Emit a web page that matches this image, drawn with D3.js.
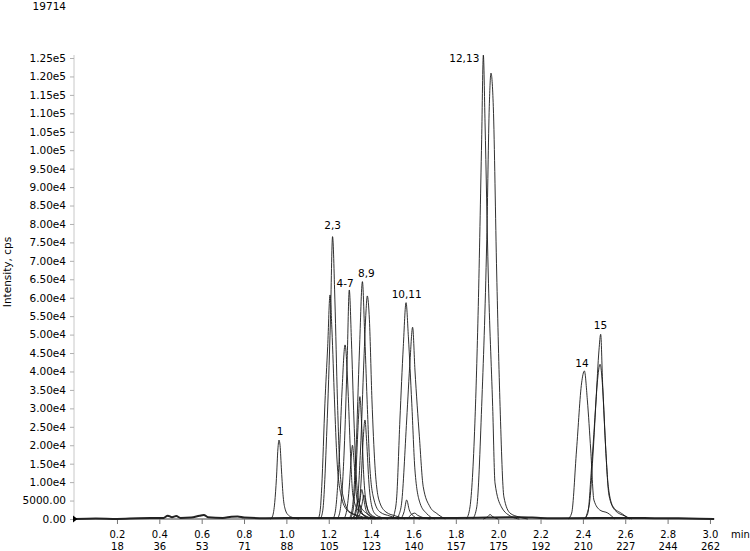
<!DOCTYPE html>
<html><head><meta charset="utf-8">
<script src="https://cdn.jsdelivr.net/npm/d3@7"></script>
<style>
html,body{margin:0;padding:0;background:#fff;}
svg{display:block;font-family:"DejaVu Sans",sans-serif;}
</style></head>
<body><svg id="c" width="750" height="551"></svg>
<script>
// ---- data (time in min, intensity in cps) ----
const xTickValues = [0.2,0.4,0.6,0.8,1.0,1.2,1.4,1.6,1.8,2.0,2.2,2.4,2.6,2.8,3.0];
const xTickLabels = ["0.2","0.4","0.6","0.8","1.0","1.2","1.4","1.6","1.8","2.0","2.2","2.4","2.6","2.8","3.0"];
const scanLabels  = ["18","36","53","71","88","105","123","140","157","175","192","210","227","244","262"];
const yTickValues = [0,5000,10000,15000,20000,25000,30000,35000,40000,45000,50000,55000,60000,65000,70000,75000,80000,85000,90000,95000,100000,105000,110000,115000,120000,125000];
const yTickLabels = ["0.00","5000.00","1.00e4","1.50e4","2.00e4","2.50e4","3.00e4","3.50e4","4.00e4","4.50e4","5.00e4","5.50e4","6.00e4","6.50e4","7.00e4","7.50e4","8.00e4","8.50e4","9.00e4","9.50e4","1.00e5","1.05e5","1.10e5","1.15e5","1.20e5","1.25e5"];
const headerText = "19714";
const yTitle = "Intensity, cps";
const xUnit = "min";

const baseline = [[0,0],[0.1,150],[0.2,0],[0.3,200],[0.42,300],[0.44,900],[0.46,500],[0.48,800],[0.5,300],[0.55,400],[0.59,900],[0.61,1100],[0.63,500],[0.7,300],[0.74,600],[0.77,700],[0.8,400],[0.9,200],[1.1,300],[1.8,300],[2.1,500],[2.2,300],[2.3,200],[2.6,300],[2.75,200],[2.9,150],[3.02,0]];
const peak1  = [[0.925,0],[0.935,800],[0.945,4500],[0.953,11000],[0.960,19000],[0.965,21400],[0.970,20000],[0.977,13000],[0.985,6000],[0.995,2500],[1.010,1000],[1.030,400],[1.060,0]];
const peak2  = [[1.150,0],[1.160,2500],[1.167,8800],[1.182,31400],[1.195,46700],[1.206,60750],[1.215,51300],[1.227,32300],[1.239,16000],[1.258,6500],[1.286,2400],[1.323,1100],[1.360,0]];
const peak3  = [[1.160,0],[1.172,2400],[1.191,24100],[1.208,54000],[1.218,76560],[1.229,59400],[1.241,32300],[1.253,13300],[1.272,5150],[1.300,1900],[1.347,800],[1.390,0]];
const peak4  = [[1.220,0],[1.232,2400],[1.249,16000],[1.263,35000],[1.277,47200],[1.291,35000],[1.302,18700],[1.314,6500],[1.338,2400],[1.376,800],[1.410,0]];
const peak5  = [[1.240,0],[1.254,2400],[1.273,18700],[1.287,43100],[1.297,62100],[1.307,48500],[1.319,26850],[1.331,10600],[1.347,3800],[1.381,1400],[1.420,0]];
const peak6  = [[1.270,0],[1.283,1800],[1.296,8000],[1.306,16500],[1.312,20000],[1.319,16000],[1.329,7500],[1.342,2800],[1.365,1000],[1.400,0]];
const peak7  = [[1.300,0],[1.315,2400],[1.328,12000],[1.340,27000],[1.347,33170],[1.355,26000],[1.365,12000],[1.378,4000],[1.395,1500],[1.420,500],[1.450,0]];
const peak7b = [[1.325,0],[1.340,2000],[1.352,9500],[1.363,22000],[1.371,26850],[1.379,21000],[1.390,9500],[1.403,3500],[1.420,1300],[1.450,400],[1.480,0]];
const peak8  = [[1.295,0],[1.310,2400],[1.329,18700],[1.345,45800],[1.359,64360],[1.369,51300],[1.381,32300],[1.395,13300],[1.414,5150],[1.442,1900],[1.489,800],[1.530,0]];
const peak9  = [[1.315,0],[1.331,2400],[1.350,18700],[1.366,43100],[1.376,56400],[1.382,60480],[1.392,54000],[1.404,32300],[1.418,14600],[1.437,5150],[1.470,1900],[1.517,800],[1.560,0]];
const minorA = [[1.320,0],[1.335,1200],[1.347,5000],[1.356,8000],[1.365,5500],[1.378,2000],[1.400,600],[1.430,0]];
const minorB = [[1.330,0],[1.345,1000],[1.357,4000],[1.366,6500],[1.375,4500],[1.388,1800],[1.410,500],[1.440,0]];
const minorC = [[1.305,0],[1.320,900],[1.330,3200],[1.338,5000],[1.347,3500],[1.360,1300],[1.385,400],[1.420,0]];
const peak10 = [[1.500,0],[1.510,1500],[1.521,6000],[1.536,26850],[1.552,46700],[1.565,58660],[1.576,49400],[1.592,31400],[1.607,13300],[1.631,4300],[1.662,1500],[1.700,0]];
const peak11 = [[1.520,0],[1.532,1200],[1.544,4300],[1.568,26850],[1.584,43100],[1.596,51990],[1.607,40400],[1.628,22300],[1.646,8800],[1.678,3300],[1.710,1500],[1.750,0]];
const minorD = [[1.540,0],[1.556,2000],[1.568,5150],[1.580,2500],[1.600,800],[1.630,0]];
const minorE = [[1.570,0],[1.590,1200],[1.605,1600],[1.620,1000],[1.650,300],[1.680,0]];
const peak12 = [[1.850,0],[1.867,3300],[1.890,26000],[1.906,57600],[1.922,102800],[1.930,125800],[1.938,107400],[1.953,66700],[1.974,30500],[1.985,9800],[2.015,3300],[2.064,600],[2.100,0]];
const peak13 = [[1.880,0],[1.899,3300],[1.922,30500],[1.946,75700],[1.958,111800],[1.966,120900],[1.977,111800],[1.993,66700],[2.009,30500],[2.027,6000],[2.056,1600],[2.095,600],[2.140,0]];
const minorF = [[1.930,0],[1.950,600],[1.962,1200],[1.975,600],[2.000,0]];
const peak14 = [[2.330,0],[2.347,1600],[2.370,18700],[2.394,36900],[2.407,40140],[2.421,32300],[2.437,18700],[2.452,5150],[2.481,2400],[2.518,1600],[2.550,0]];
const peak15 = [[2.405,0],[2.423,1500],[2.441,14200],[2.462,32300],[2.476,45800],[2.484,50090],[2.493,36900],[2.504,23300],[2.520,8800],[2.543,3300],[2.583,1500],[2.620,0]];
const peak15b= [[2.410,0],[2.420,1500],[2.433,5150],[2.449,18700],[2.468,36900],[2.481,41950],[2.494,35000],[2.508,18700],[2.523,6500],[2.551,2400],[2.598,800],[2.630,0]];

const traces = [peak1,peak2,peak3,peak4,peak5,peak6,peak7,peak7b,peak8,peak9,minorA,minorB,minorC,
                peak10,peak11,minorD,minorE,peak12,peak13,minorF,peak14,peak15,peak15b];

// peak labels: text, time, intensity (label baseline point)
const labelTexts = ["1","2,3","4-7","8,9","10,11","12,13","14","15"];
const labelTimes = [0.970,1.218,1.277,1.378,1.568,1.911,2.396,2.483];
const labelInts  = [22780,78500,63000,65720,59860,124000,41300,51450];

// ---- drawing ----
const svg = d3.select("#c");
const x = d3.scaleLinear().domain([0,3.02]).range([74.6,714.2]);
const y = d3.scaleLinear().domain([0,125000]).range([519,58]);
const font = "10.5px";
const xFont = "10px";

svg.append("text").attr("x",66).attr("y",10).attr("text-anchor","end")
  .style("font-size",font).attr("fill","#000").text(headerText);

// y axis
const yAxis = svg.append("g").attr("transform","translate(74,0)")
  .call(d3.axisLeft(y).tickValues(yTickValues).tickSize(4).tickPadding(4)
        .tickFormat((d,i)=>yTickLabels[i]));
yAxis.select(".domain").attr("stroke","#c8c8c8").attr("d","M0,55V519");
yAxis.selectAll(".tick line").attr("stroke","#b0b0b0");
yAxis.selectAll(".tick text").style("font-size",font).style("font-family","DejaVu Sans").attr("fill","#000");

svg.append("text").attr("transform","translate(11,272) rotate(-90)")
  .attr("text-anchor","middle").style("font-size",font).attr("fill","#000").text(yTitle);

// x axis
const xAxis = svg.append("g").attr("transform","translate(0,519)")
  .call(d3.axisBottom(x).tickValues(xTickValues).tickSize(5)
        .tickFormat((d,i)=>xTickLabels[i]));
xAxis.select(".domain").attr("stroke","#444").attr("d","M74,0H714");
xAxis.selectAll(".tick line").attr("stroke","#777");
xAxis.selectAll(".tick text").attr("y",18.5).attr("dy",null)
  .style("font-size",xFont).style("font-family","DejaVu Sans").attr("fill","#000");
xAxis.selectAll(".tick").append("text").attr("y",30.5).attr("fill","#000")
  .attr("text-anchor","middle").style("font-size",xFont).style("font-family","DejaVu Sans")
  .text((d,i)=>scanLabels[i]);

svg.append("text").attr("x",731).attr("y",537.5).style("font-size",xFont).attr("fill","#000").text(xUnit);

// traces
const line = d3.line().x(d=>x(d[0])).y(d=>y(d[1])).curve(d3.curveMonotoneX);
svg.append("path").datum(baseline).attr("d",line).attr("fill","none")
  .attr("stroke","#222").attr("stroke-width",2);
svg.append("g").selectAll("path").data(traces).join("path")
  .attr("d",line).attr("fill","none").attr("stroke","#1a1a1a").attr("stroke-width",0.9);

// start marker
svg.append("path").attr("d","M73,515.5L77.5,519L73,522.5Z").attr("fill","#000");

// peak labels
svg.append("g").selectAll("text").data(labelTexts).join("text")
  .attr("x",(d,i)=>x(labelTimes[i])).attr("y",(d,i)=>y(labelInts[i]))
  .attr("text-anchor",d=>d==="12,13"?"end":"middle")
  .style("font-size",font).attr("fill","#000").text(d=>d);
</script>
</body></html>
